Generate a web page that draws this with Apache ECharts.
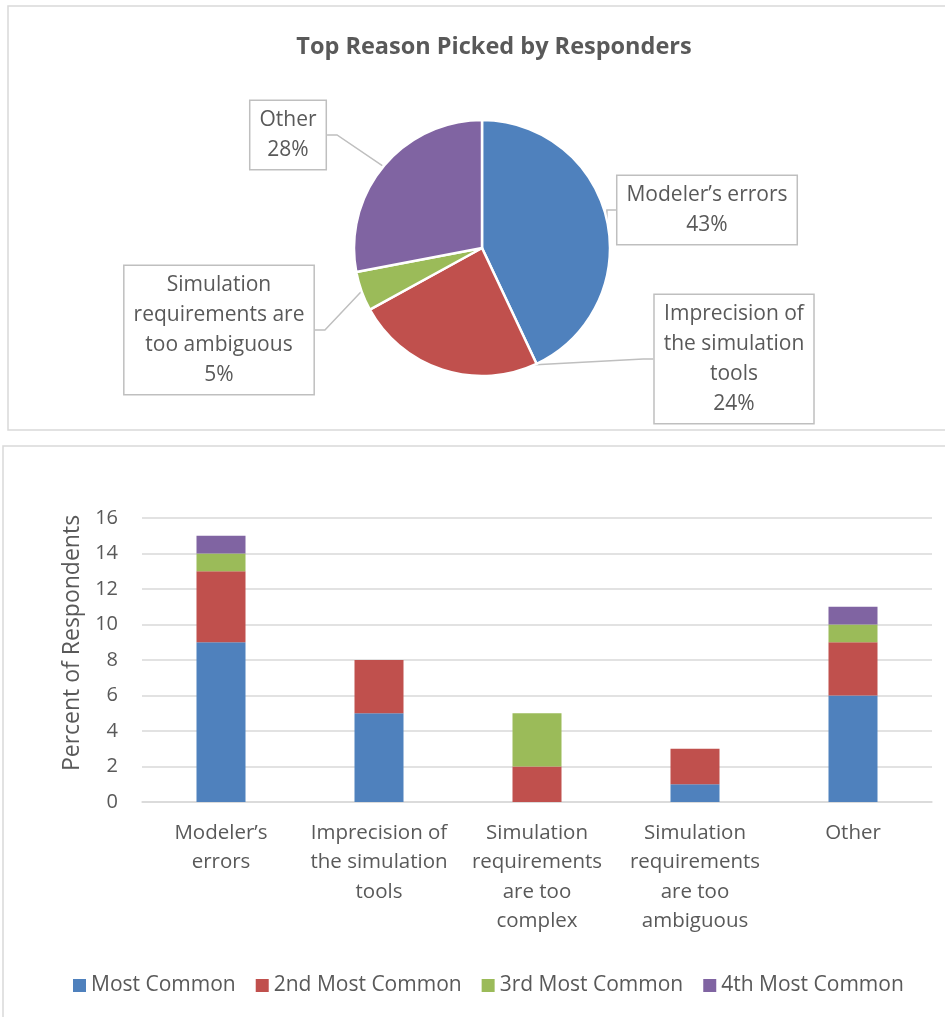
<!DOCTYPE html>
<html>
<head>
<meta charset="utf-8">
<script src="https://cdn.jsdelivr.net/npm/echarts@6/dist/echarts.min.js"></script>
<style>
  html, body { margin: 0; padding: 0; background: #fff; }
  #chart { width: 945px; height: 1017px; }
</style>
</head>
<body>
<div id="chart"></div>
<script>
// ---- Data ----
const pieTitle = 'Top Reason Picked by Responders';
const pieNames = ['Modeler’s errors', 'Imprecision of\nthe simulation\ntools', 'Simulation\nrequirements are\ntoo ambiguous', 'Other'];
const pieValues = [43, 24, 5, 28];

const barCategories = ['Modeler’s\nerrors', 'Imprecision of\nthe simulation\ntools', 'Simulation\nrequirements\nare too\ncomplex', 'Simulation\nrequirements\nare too\nambiguous', 'Other'];
const seriesNames = ['Most Common', '2nd Most Common', '3rd Most Common', '4th Most Common'];
const mostCommon = [9, 5, 0, 1, 6];
const secondMost = [4, 3, 2, 2, 3];
const thirdMost = [1, 0, 3, 0, 1];
const fourthMost = [1, 0, 0, 0, 1];
const yAxisName = 'Percent of Respondents';

// ---- Styles ----
const colors = ['#4f81bd', '#c0504d', '#9bbb59', '#8064a2'];
const textColor = '#595959';
const font = '"Open Sans", "Noto Sans", sans-serif';
const labelCenters = [[707, 210], [734, 359], [219, 330], [288, 135]];

const chart = echarts.init(document.getElementById('chart'), null, { renderer: 'canvas' });

const barData = [mostCommon, secondMost, thirdMost, fourthMost];

const option = {
  animation: false,
  textStyle: { fontFamily: font },
  title: {
    text: pieTitle,
    left: 489,
    textAlign: 'center',
    top: 30,
    textStyle: { fontFamily: font, fontWeight: 'bold', fontSize: 23.5, color: textColor }
  },
  graphic: [
    { type: 'rect', shape: { x: 8, y: 6, width: 960, height: 424 }, style: { fill: 'none', stroke: '#d9d9d9', lineWidth: 1.5 }, silent: true, z: -10 },
    { type: 'rect', shape: { x: 3, y: 446, width: 960, height: 600 }, style: { fill: 'none', stroke: '#d9d9d9', lineWidth: 1.5 }, silent: true, z: -10 }
  ],
  legend: {
    data: seriesNames,
    left: 68,
    top: 970,
    itemWidth: 13,
    itemHeight: 13,
    itemGap: 20,
    icon: 'rect',
    textStyle: { fontFamily: font, fontSize: 21, color: textColor }
  },
  grid: { left: 142, right: 13, top: 518, bottom: 215, containLabel: false },
  xAxis: {
    type: 'category',
    data: barCategories,
    axisLine: { lineStyle: { color: '#d9d9d9', width: 1.5 } },
    axisTick: { show: false },
    axisLabel: { fontFamily: font, fontSize: 20.5, color: textColor, lineHeight: 29.5, margin: 16, interval: 0 }
  },
  yAxis: {
    type: 'value',
    min: 0, max: 16, interval: 2,
    name: yAxisName,
    nameLocation: 'middle',
    nameGap: 53,
    nameTextStyle: { fontFamily: font, fontSize: 23, color: textColor, padding: [0, 0, 0, 34] },
    axisLine: { show: false },
    axisTick: { show: false },
    splitLine: { lineStyle: { color: '#d9d9d9', width: 1.5 } },
    axisLabel: { fontFamily: font, fontSize: 20, color: textColor, margin: 24 }
  },
  series: [
    {
      type: 'pie',
      center: [482, 248],
      radius: 128,
      startAngle: 90,
      clockwise: true,
      data: pieNames.map((n, i) => ({ name: n, value: pieValues[i], itemStyle: { color: colors[i] } })),
      itemStyle: { borderColor: '#fff', borderWidth: 2.5 },
      label: {
        show: true,
        formatter: '{b}\n{d}%',
        fontFamily: font,
        fontSize: 21,
        lineHeight: 30,
        color: textColor,
        align: 'center',
        backgroundColor: '#fff',
        borderColor: '#bfbfbf',
        borderWidth: 1.5,
        padding: [4, 9]
      },
      labelLine: { show: true, length: 10, length2: 10, lineStyle: { color: '#bfbfbf', width: 1.5 } },
      labelLayout: function (params) {
        const c = labelCenters[params.dataIndex];
        return { x: c[0], y: c[1], align: 'center', verticalAlign: 'middle' };
      }
    }
  ].concat(barData.map((d, i) => ({
    type: 'bar',
    name: seriesNames[i],
    stack: 'total',
    data: d,
    barWidth: 49,
    itemStyle: { color: colors[i] }
  })))
};

chart.setOption(option);
</script>
</body>
</html>
